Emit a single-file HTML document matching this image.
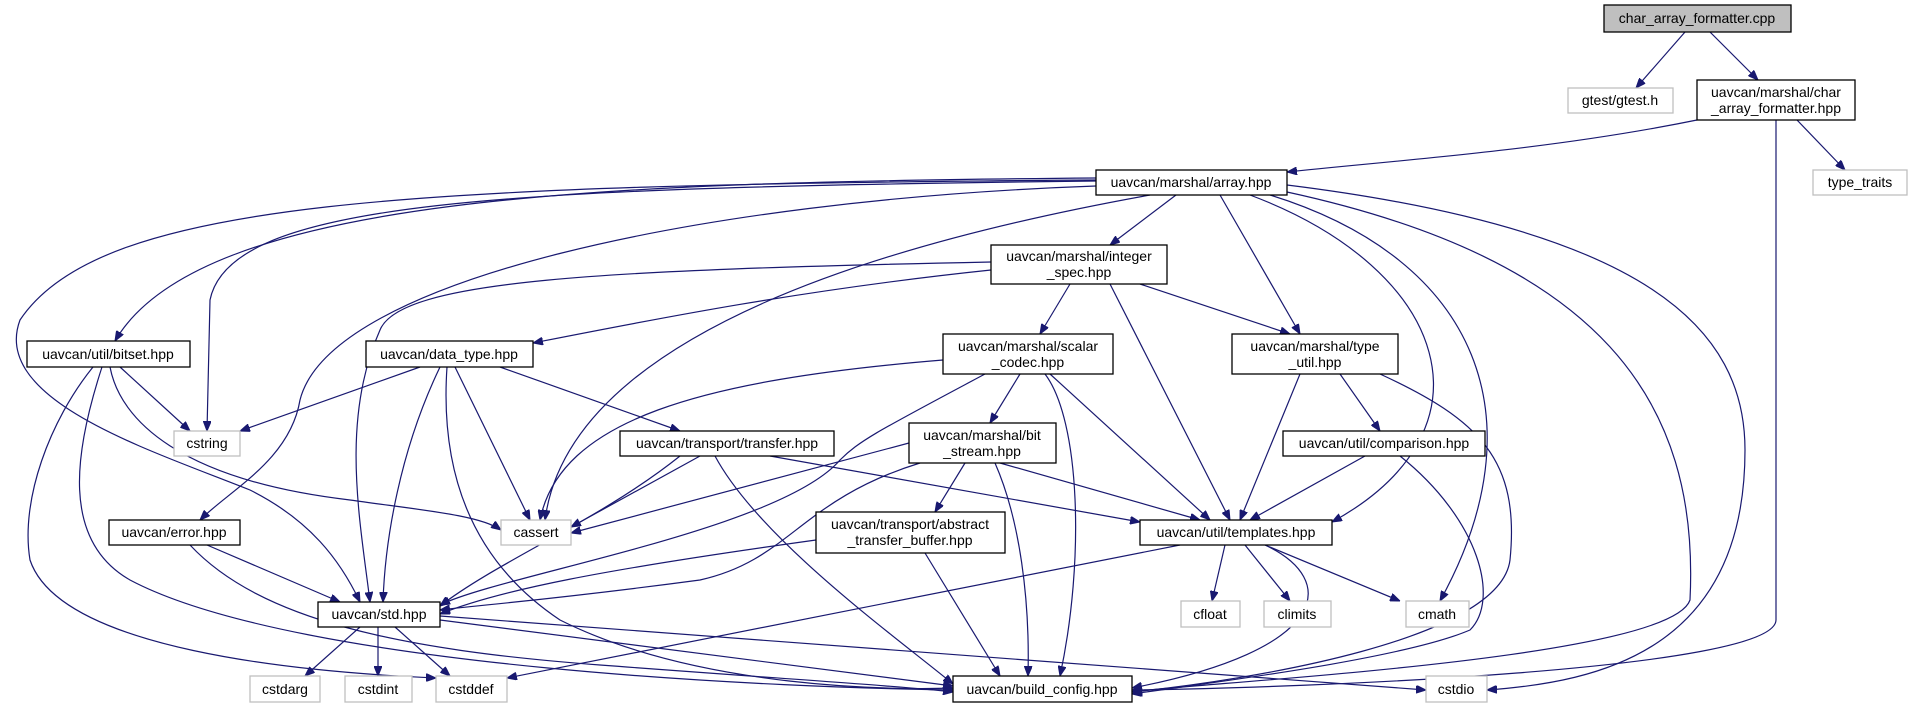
<!DOCTYPE html>
<html><head><meta charset="utf-8"><style>
html,body{margin:0;padding:0;background:#fff;}
svg{display:block;}
text{font-family:"Liberation Sans",sans-serif;font-size:14px;fill:#000;}
.n{fill:#fff;stroke:#000;stroke-width:1.3;}
.g{fill:#fff;stroke:#bfbfbf;stroke-width:1.3;}
.e{fill:none;stroke:#191970;stroke-width:1.2;}
</style></head><body>
<svg width="1912" height="708" viewBox="0 0 1912 708" xmlns="http://www.w3.org/2000/svg">
<defs><marker id="a" viewBox="0 0 10 8" refX="10" refY="4" markerWidth="10" markerHeight="8" markerUnits="userSpaceOnUse" orient="auto"><path d="M0,0L10,4L0,8z" fill="#191970" stroke="#191970"/></marker></defs>
<g class="e" marker-end="url(#a)">
<path d="M1685,32L1636,88"/>
<path d="M1710,32L1758,80"/>
<path d="M1697,120C1550,150 1400,160 1287,172"/>
<path d="M1797,120L1845,170"/>
<path d="M1776,120L1776,620C1776,670 1300,688 1132,690"/>
<path d="M1176,195L1110,245"/>
<path d="M1096,178C600,182 200,195 115,341"/>
<path d="M1096,181C500,188 230,200 210,300L207,431"/>
<path d="M1096,180C400,185 100,200 20,320C-10,400 150,450 250,490C310,520 340,560 360,602"/>
<path d="M1096,186C700,200 330,280 300,400C290,460 230,490 200,520"/>
<path d="M1150,195C900,240 570,330 545,520"/>
<path d="M1220,195L1300,334"/>
<path d="M1250,195C1450,270 1500,430 1332,522"/>
<path d="M1270,195C1480,260 1540,420 1440,601"/>
<path d="M1287,192C1600,260 1700,400 1690,600C1670,660 1200,682 1132,692"/>
<path d="M1287,185C1650,230 1745,330 1745,450C1745,650 1600,682 1487,690"/>
<path d="M1070,284L1040,334"/>
<path d="M1140,284L1290,334"/>
<path d="M1110,284L1230,520"/>
<path d="M991,270C800,290 650,320 533,343"/>
<path d="M991,262C600,270 400,280 380,330C340,420 360,520 370,602"/>
<path d="M120,367L190,431"/>
<path d="M110,367C120,420 180,480 350,500C420,510 480,515 501,530"/>
<path d="M93,367C50,420 20,500 30,560C60,650 300,672 436,678"/>
<path d="M102,367C75,450 60,540 130,580C300,670 800,688 953,690"/>
<path d="M420,367L240,431"/>
<path d="M500,367L680,431"/>
<path d="M455,367L530,520"/>
<path d="M440,367C400,450 385,540 383,602"/>
<path d="M447,367C440,470 470,560 560,620C700,690 900,690 953,688"/>
<path d="M943,360C700,380 560,420 540,520"/>
<path d="M1020,374L990,423"/>
<path d="M985,374C880,430 860,440 840,460C780,530 500,575 440,605"/>
<path d="M1050,374L1210,520"/>
<path d="M1045,374C1080,420 1085,560 1060,676"/>
<path d="M1340,374L1380,431"/>
<path d="M1300,374L1240,520"/>
<path d="M1380,374C1480,420 1520,460 1510,560C1500,640 1250,680 1132,692"/>
<path d="M700,456L571,527"/>
<path d="M680,456C600,520 500,560 440,606"/>
<path d="M770,456L1140,522"/>
<path d="M715,456C760,540 900,640 953,684"/>
<path d="M909,443L571,533"/>
<path d="M920,463C800,500 790,560 700,580C550,600 480,605 440,610"/>
<path d="M965,463L935,512"/>
<path d="M1000,463L1200,520"/>
<path d="M995,463C1020,520 1030,600 1028,676"/>
<path d="M1365,456L1250,520"/>
<path d="M1400,456C1480,520 1500,600 1470,630C1400,660 1200,684 1132,694"/>
<path d="M816,540C600,570 500,590 440,614"/>
<path d="M925,553L1000,676"/>
<path d="M1225,545L1212,601"/>
<path d="M1245,545L1290,601"/>
<path d="M1265,545L1400,601"/>
<path d="M1265,545C1340,580 1330,650 1132,688"/>
<path d="M1180,545L507,678"/>
<path d="M207,545L340,602"/>
<path d="M190,545C260,620 400,650 600,665C800,680 900,686 953,692"/>
<path d="M360,627L305,676"/>
<path d="M378,627L378,676"/>
<path d="M395,627L450,676"/>
<path d="M440,620L953,686"/>
<path d="M440,616L1426,690"/>
</g>
<rect x="1604" y="5" width="187" height="27" fill="#bfbfbf" stroke="#000" stroke-width="1.3"/>
<text x="1697" y="23" text-anchor="middle">char_array_formatter.cpp</text>
<rect class="g" x="1568" y="88" width="105" height="25"/><text x="1620" y="105" text-anchor="middle">gtest/gtest.h</text>
<rect class="n" x="1697" y="80" width="158" height="40"/><text x="1776" y="97" text-anchor="middle">uavcan/marshal/char</text><text x="1776" y="113" text-anchor="middle">_array_formatter.hpp</text>
<rect class="g" x="1813" y="170" width="94" height="25"/><text x="1860" y="187" text-anchor="middle">type_traits</text>
<rect class="n" x="1096" y="170" width="191" height="25"/><text x="1191" y="187" text-anchor="middle">uavcan/marshal/array.hpp</text>
<rect class="n" x="991" y="245" width="176" height="39"/><text x="1079" y="261" text-anchor="middle">uavcan/marshal/integer</text><text x="1079" y="277" text-anchor="middle">_spec.hpp</text>
<rect class="n" x="27" y="341" width="163" height="26"/><text x="108" y="359" text-anchor="middle">uavcan/util/bitset.hpp</text>
<rect class="g" x="174" y="431" width="66" height="25"/><text x="207" y="448" text-anchor="middle">cstring</text>
<rect class="n" x="366" y="341" width="167" height="26"/><text x="449" y="359" text-anchor="middle">uavcan/data_type.hpp</text>
<rect class="n" x="943" y="334" width="170" height="40"/><text x="1028" y="351" text-anchor="middle">uavcan/marshal/scalar</text><text x="1028" y="367" text-anchor="middle">_codec.hpp</text>
<rect class="n" x="1232" y="334" width="166" height="40"/><text x="1315" y="351" text-anchor="middle">uavcan/marshal/type</text><text x="1315" y="367" text-anchor="middle">_util.hpp</text>
<rect class="n" x="620" y="431" width="214" height="25"/><text x="727" y="448" text-anchor="middle">uavcan/transport/transfer.hpp</text>
<rect class="n" x="909" y="423" width="147" height="40"/><text x="982" y="440" text-anchor="middle">uavcan/marshal/bit</text><text x="982" y="456" text-anchor="middle">_stream.hpp</text>
<rect class="n" x="1283" y="431" width="202" height="25"/><text x="1384" y="448" text-anchor="middle">uavcan/util/comparison.hpp</text>
<rect class="g" x="501" y="520" width="70" height="25"/><text x="536" y="537" text-anchor="middle">cassert</text>
<rect class="n" x="109" y="520" width="131" height="25"/><text x="174" y="537" text-anchor="middle">uavcan/error.hpp</text>
<rect class="n" x="816" y="512" width="189" height="41"/><text x="910" y="529" text-anchor="middle">uavcan/transport/abstract</text><text x="910" y="545" text-anchor="middle">_transfer_buffer.hpp</text>
<rect class="n" x="1140" y="520" width="192" height="25"/><text x="1236" y="537" text-anchor="middle">uavcan/util/templates.hpp</text>
<rect class="n" x="318" y="602" width="122" height="25"/><text x="379" y="619" text-anchor="middle">uavcan/std.hpp</text>
<rect class="g" x="1181" y="601" width="59" height="26"/><text x="1210" y="619" text-anchor="middle">cfloat</text>
<rect class="g" x="1264" y="601" width="67" height="26"/><text x="1297" y="619" text-anchor="middle">climits</text>
<rect class="g" x="1406" y="601" width="63" height="26"/><text x="1437" y="619" text-anchor="middle">cmath</text>
<rect class="g" x="250" y="676" width="70" height="26"/><text x="285" y="694" text-anchor="middle">cstdarg</text>
<rect class="g" x="345" y="676" width="67" height="26"/><text x="378" y="694" text-anchor="middle">cstdint</text>
<rect class="g" x="436" y="676" width="71" height="26"/><text x="471" y="694" text-anchor="middle">cstddef</text>
<rect class="n" x="953" y="676" width="179" height="26"/><text x="1042" y="694" text-anchor="middle">uavcan/build_config.hpp</text>
<rect class="g" x="1426" y="676" width="61" height="26"/><text x="1456" y="694" text-anchor="middle">cstdio</text>
</svg>
</body></html>
